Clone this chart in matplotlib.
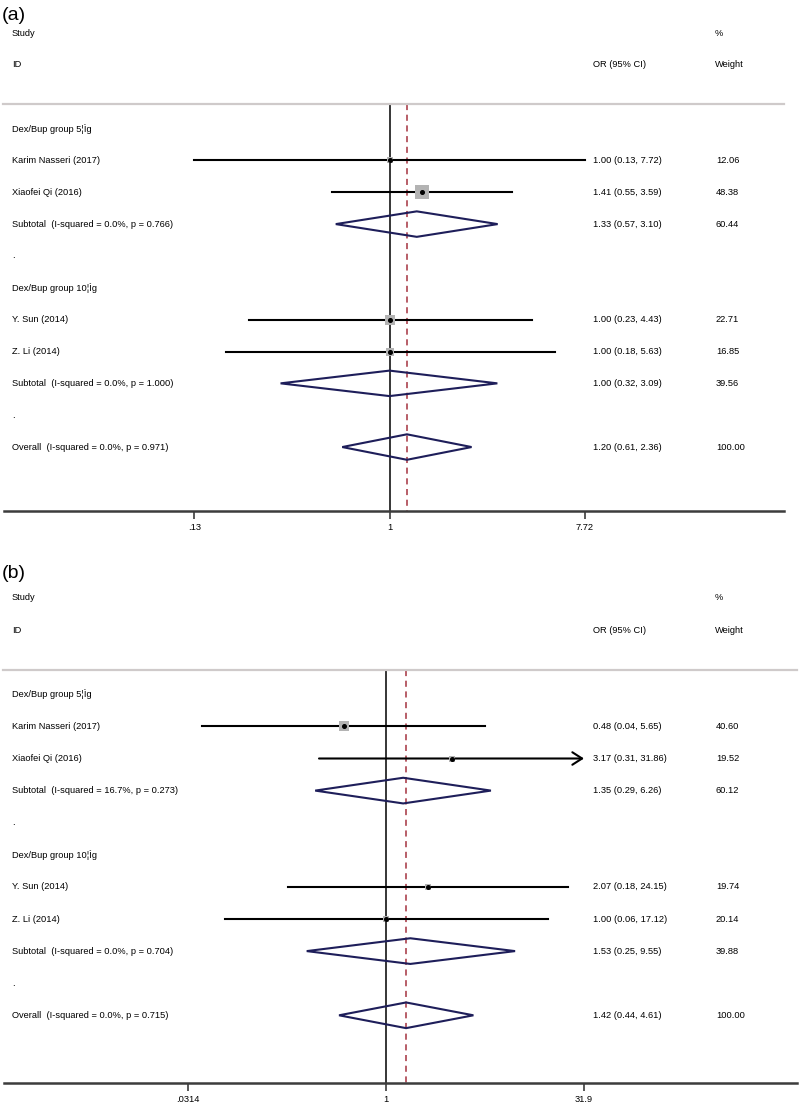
import matplotlib
matplotlib.use("Agg")
import matplotlib.pyplot as plt
from matplotlib.patches import Polygon
from matplotlib.transforms import blended_transform_factory
import numpy as np

plt.rcParams['font.family'] = ['Liberation Sans', 'DejaVu Sans']

# ---------------- data ----------------
row_labels = ["Dex/Bup group 5¦Ìg", "Karim Nasseri (2017)", "Xiaofei Qi (2016)", None, ".",
              "Dex/Bup group 10¦Ìg", "Y. Sun (2014)", "Z. Li (2014)", None, ".", None]
row_kind = ["head", "study", "study", "sub", "blank", "head", "study", "study", "sub", "blank", "overall"]

# panel (a)
a_or = [None, 1.00, 1.41, 1.33, None, None, 1.00, 1.00, 1.00, None, 1.20]
a_lo = [None, 0.13, 0.55, 0.57, None, None, 0.23, 0.18, 0.32, None, 0.61]
a_hi = [None, 7.72, 3.59, 3.10, None, None, 4.43, 5.63, 3.09, None, 2.36]
a_wt = [None, 12.06, 48.38, 60.44, None, None, 22.71, 16.85, 39.56, None, 100.00]
a_het = ["(I-squared = 0.0%, p = 0.766)", "(I-squared = 0.0%, p = 1.000)", "(I-squared = 0.0%, p = 0.971)"]
a_arrow = [False] * 11
a_ticks = [0.13, 1, 7.72]
a_ticklabels = [".13", "1", "7.72"]

# panel (b)
b_or = [None, 0.48, 3.17, 1.35, None, None, 2.07, 1.00, 1.53, None, 1.42]
b_lo = [None, 0.04, 0.31, 0.29, None, None, 0.18, 0.06, 0.25, None, 0.44]
b_hi = [None, 5.65, 31.86, 6.26, None, None, 24.15, 17.12, 9.55, None, 4.61]
b_wt = [None, 40.60, 19.52, 60.12, None, None, 19.74, 20.14, 39.88, None, 100.00]
b_het = ["(I-squared = 16.7%, p = 0.273)", "(I-squared = 0.0%, p = 0.704)", "(I-squared = 0.0%, p = 0.715)"]
b_arrow = [False, False, True, False, False, False, False, False, False, False, False]
b_ticks = [0.0314, 1, 31.9]
b_ticklabels = [".0314", "1", "31.9"]

W, H = 800, 1106
fig = plt.figure(figsize=(W / 100, H / 100), dpi=100)
fig.patch.set_facecolor("white")

FS = 6.7
NAVY = "#1e1e5a"
DRED = "#a4323f"
BOXC = "#b3b3b3"


def panel(tag, tag_y, xpx0, pxln, row0, rowh, axis_y, right_px,
          ors, los, his, wts, hets, arrows, ticks, ticklabels, boxk):
    top_px = row0 - 0.5 * rowh
    ax = fig.add_axes([4 / W, 1 - axis_y / H, (right_px - 4) / W, (axis_y - top_px) / H])
    ax.set_xscale("log")
    xl = np.exp((4 - xpx0) / pxln)
    xr = np.exp((right_px - xpx0) / pxln)
    ax.set_xlim(xl, xr)
    ybot = (axis_y - row0) / rowh
    ax.set_ylim(ybot, -0.5)
    for s in ["top", "left", "right"]:
        ax.spines[s].set_visible(False)
    ax.spines["bottom"].set_color("#3c3c3c")
    ax.spines["bottom"].set_linewidth(1.8)
    ax.set_yticks([])
    ax.set_xticks(ticks)
    ax.set_xticklabels(ticklabels, fontsize=FS)
    ax.xaxis.set_minor_locator(matplotlib.ticker.NullLocator())
    ax.tick_params(axis="x", length=6, width=1.2, color="#3c3c3c", pad=2.5)
    ax.patch.set_alpha(0)

    tr = blended_transform_factory(fig.transFigure, ax.transData)
    fig.text(2 / W, 1 - tag_y / H, tag, fontsize=14, va="center", ha="left")

    # headers
    ax.text(12 / W, 0, "Study", transform=tr, fontsize=FS, va="center")
    ax.text(12 / W, 1, "ID", transform=tr, fontsize=FS, va="center")
    ax.text(593 / W, 1, "OR (95% CI)", transform=tr, fontsize=FS, va="center")
    ax.text(715 / W, 0, "%", transform=tr, fontsize=FS, va="center")
    ax.text(715 / W, 1, "Weight", transform=tr, fontsize=FS, va="center")
    line_row = 2.23
    ax.plot([3 / W, right_px / W], [line_row, line_row], transform=tr,
            color="#cfcaca", lw=1.6, clip_on=False)

    # reference lines
    ax.plot([1, 1], [line_row, ybot], color="black", lw=1.1, zorder=1)
    overall = ors[-1]
    ax.plot([overall, overall], [line_row, ybot], color=DRED, lw=1.1,
            dashes=(4, 3), zorder=1)

    hi_k = 0
    for i, kind in enumerate(row_kind):
        y = 3 + i
        if kind in ("head", "blank"):
            ax.text(12 / W, y, row_labels[i], transform=tr, fontsize=FS, va="center")
        elif kind == "study":
            ax.text(12 / W, y, row_labels[i], transform=tr, fontsize=FS, va="center")
            if arrows[i]:
                ax.annotate("", xy=(his[i], y), xytext=(los[i], y),
                            arrowprops=dict(arrowstyle="->,head_length=0.7,head_width=0.45",
                                            color="black", lw=1.5, shrinkA=0, shrinkB=0))
            else:
                ax.plot([los[i], his[i]], [y, y], color="black", lw=1.5, zorder=2)
            side = boxk * np.sqrt(wts[i]) * 0.72
            ax.scatter([ors[i]], [y], marker="s", s=side ** 2, color=BOXC,
                       linewidths=0, zorder=3)
            ax.plot([ors[i]], [y], "o", color="black", ms=2.6, zorder=4)
        else:
            lab = "Subtotal  " if kind == "sub" else "Overall  "
            ax.text(12 / W, y, lab + hets[hi_k], transform=tr, fontsize=FS, va="center")
            hi_k += 1
            h = 0.40
            poly = Polygon([(los[i], y), (ors[i], y - h), (his[i], y), (ors[i], y + h)],
                           closed=True, fill=False, edgecolor=NAVY, lw=1.5, zorder=3)
            ax.add_patch(poly)
        if ors[i] is not None:
            ax.text(593 / W, y, f"{ors[i]:.2f} ({los[i]:.2f}, {his[i]:.2f})",
                    transform=tr, fontsize=FS, va="center")
            ax.text(716 / W, y, f"{wts[i]:.2f}", transform=tr, fontsize=FS, va="center")
    return ax


panel("(a)", 15, 389.5, 95.6, 33, 31.85, 511, 784,
      a_or, a_lo, a_hi, a_wt, a_het, a_arrow, a_ticks, a_ticklabels, 1.95)
panel("(b)", 573, 386, 57.2, 598, 32.1, 1083, 797,
      b_or, b_lo, b_hi, b_wt, b_het, b_arrow, b_ticks, b_ticklabels, 1.45)

fig.savefig("out.png", dpi=100, facecolor="white")
